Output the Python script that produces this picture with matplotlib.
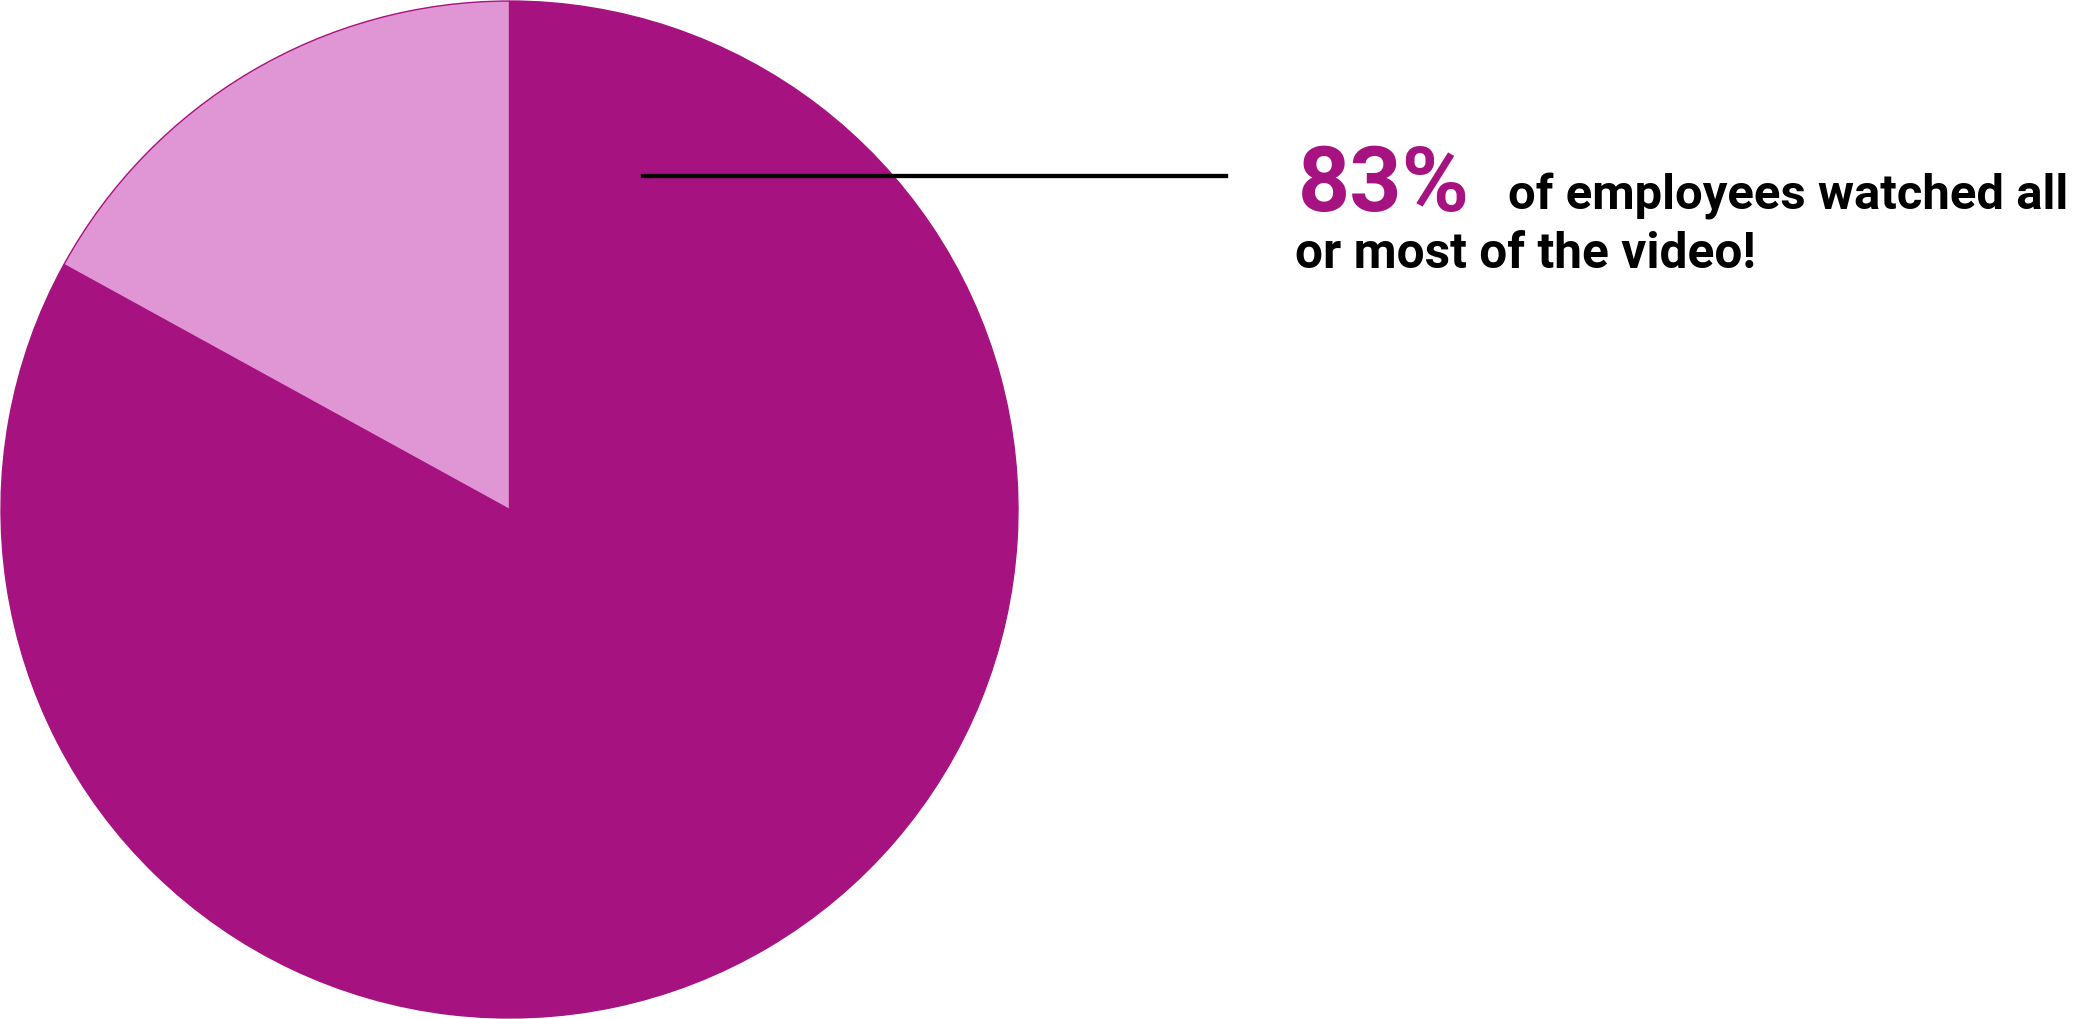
import matplotlib
matplotlib.use('Agg')
import matplotlib.pyplot as plt
from matplotlib.lines import Line2D

# share of employees who watched the video
labels = ['Watched all or most', 'Watched little or none']
shares = [83, 17]
colors = ['#A61280', '#E096D4']

headline_value = '83%'
headline_line1 = 'of employees watched all'
headline_line2 = 'or most of the video!'

W, H = 2079, 1019
fig = plt.figure(figsize=(W / 100, H / 100), dpi=100)
fig.patch.set_facecolor('white')

# pie sits on the left, filling the full height
ax = fig.add_axes([0, 0, H / W, 1])
ax.pie(shares, colors=colors, startangle=90, counterclock=False,
       wedgeprops=dict(edgecolor=colors[0], linewidth=1.0))
ax.set_xlim(-1.002, 1.002)
ax.set_ylim(-1.002, 1.002)
ax.set_aspect('equal')
ax.axis('off')


def fx(px):
    return px / W


def fy(py):
    return 1 - py / H


# leader line
fig.add_artist(Line2D([fx(643), fx(1226)], [fy(175.5), fy(175.5)],
                      transform=fig.transFigure, color='black', lw=3.1))

renderer = fig.canvas.get_renderer()


def fitted_text(x0, x1, base, s, color, size):
    # shrink/grow the font so the text spans x0..x1 pixels
    t = fig.text(fx(x0), fy(base), s, color=color, fontsize=size,
                 fontweight='bold', family='Roboto', va='baseline', ha='left')
    w = t.get_window_extent(renderer).width
    t.set_fontsize(size * (x1 - x0) / w)
    return t


# Roboto digits are narrower than the original face, so keep the big
# number a bit narrower to hold its height
fitted_text(1298, 1470, 211, headline_value, colors[0], 65)
fitted_text(1508, 2067, 210, headline_line1, 'black', 37)
fitted_text(1295, 1755, 268, headline_line2, 'black', 37)

fig.savefig('out.png', dpi=100)
